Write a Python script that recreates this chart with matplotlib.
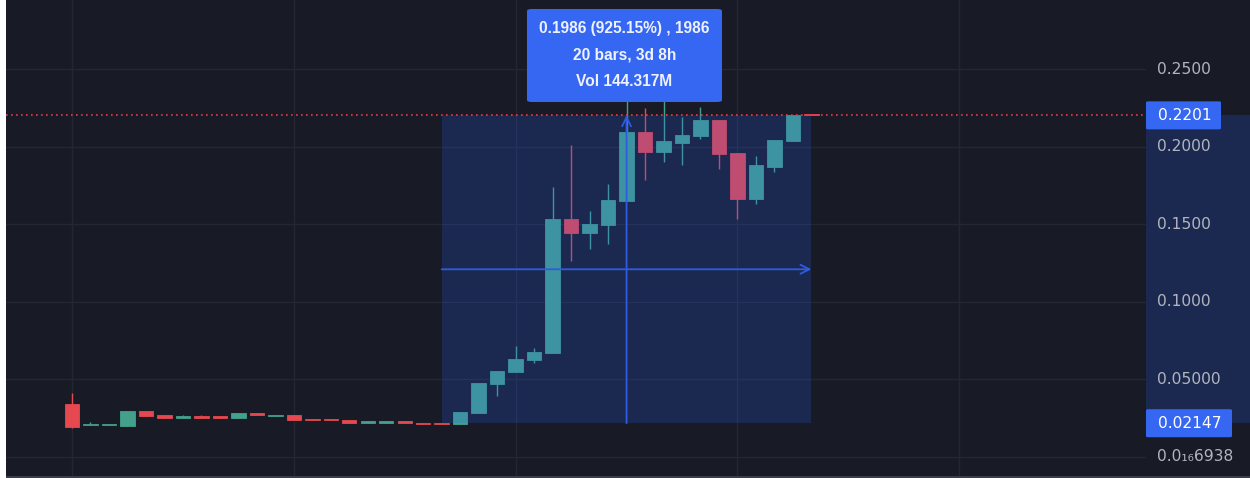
import matplotlib
matplotlib.use("Agg")
import matplotlib.pyplot as plt
from matplotlib.patches import Rectangle, FancyBboxPatch
import numpy as np

# 数据：每根 K 线的开高低收
opens = [0.0337, 0.0201, 0.0202, 0.0200, 0.0294, 0.0268, 0.0250, 0.0260, 0.0260, 0.0250,
         0.0279, 0.0260, 0.0270, 0.0242, 0.0242, 0.0234, 0.0216, 0.0216, 0.0227, 0.0218,
         0.0218, 0.0210, 0.0279, 0.0468, 0.0545, 0.0623, 0.0666, 0.1532, 0.1440, 0.1492,
         0.1646, 0.2094, 0.1966, 0.2025, 0.2070, 0.2171, 0.1956, 0.1663, 0.1870, 0.2034,
         0.2201]
highs = [0.0408, 0.0225, 0.0208, 0.0294, 0.0294, 0.0268, 0.0270, 0.0270, 0.0260, 0.0279,
         0.0279, 0.0270, 0.0270, 0.0242, 0.0242, 0.0234, 0.0227, 0.0227, 0.0227, 0.0218,
         0.0218, 0.0285, 0.0474, 0.0552, 0.0715, 0.0698, 0.1741, 0.2008, 0.1586, 0.1758,
         0.2320, 0.2246, 0.2320, 0.2190, 0.2257, 0.2171, 0.1956, 0.1939, 0.2042, 0.2201,
         0.2201]
lows = [0.0182, 0.0201, 0.0202, 0.0200, 0.0259, 0.0250, 0.0250, 0.0250, 0.0250, 0.0250,
        0.0270, 0.0260, 0.0234, 0.0234, 0.0234, 0.0216, 0.0216, 0.0216, 0.0218, 0.0208,
        0.0208, 0.0210, 0.0279, 0.0390, 0.0545, 0.0605, 0.0666, 0.1259, 0.1337, 0.1371,
        0.1646, 0.1786, 0.1898, 0.1879, 0.2050, 0.1855, 0.1534, 0.1629, 0.1835, 0.2034,
        0.2201]
closes = [0.0190, 0.0206, 0.0208, 0.0294, 0.0259, 0.0250, 0.0260, 0.0250, 0.0250, 0.0279,
          0.0270, 0.0270, 0.0234, 0.0234, 0.0234, 0.0216, 0.0227, 0.0227, 0.0218, 0.0208,
          0.0210, 0.0285, 0.0474, 0.0552, 0.0629, 0.0672, 0.1532, 0.1440, 0.1498, 0.1655,
          0.2094, 0.1966, 0.2034, 0.2076, 0.2171, 0.1950, 0.1663, 0.1879, 0.2042, 0.2201,
          0.2201]

price_ticks = [0.0, 0.05, 0.10, 0.15, 0.20, 0.25]
price_labels = ["0.0\u2081\u20866938", "0.05000", "0.1000", "0.1500", "0.2000", "0.2500"]

range_start, range_end = 20, 40
range_low, range_high = 0.02147, 0.2201
last_price = 0.2201
tooltip_lines = ["0.1986 (925.15%) , 1986", "20 bars, 3d 8h", "Vol 144.317M"]

# 颜色
BG = "#181b26"
GRID = "#232734"
UP = "#43a08a"
DOWN = "#e5484f"
BLUE = "#2962ff"
LABEL = "#b2b5be"

W, H = 1250, 478
fig = plt.figure(figsize=(W / 100, H / 100), dpi=100)
fig.patch.set_facecolor(BG)


def px(x, y):
    """像素坐标 (左上原点) -> figure 坐标"""
    return x / W, 1 - y / H


# 主图区域: x 6..1146, y 0..476 像素
ax = fig.add_axes([6 / W, 2 / H, 1140 / W, 476 / H])
ax.set_facecolor(BG)
ax.set_xlim(-3.57, 58.1)
ax.set_ylim(-0.01258, 0.29452)
for s in ax.spines.values():
    s.set_visible(False)
ax.set_xticks([])
ax.set_yticks([])

# 网格
for gx in [0, 12, 24, 36, 48]:
    ax.axvline(gx, color=GRID, lw=1, zorder=0)
for gy in price_ticks:
    ax.axhline(gy, color=GRID, lw=1, zorder=0)

# K 线
n = len(opens)
idx = np.arange(n)
o = np.array(opens)
c = np.array(closes)
colors = [UP if c[i] > o[i] else DOWN for i in range(n)]
ax.vlines(idx, lows, highs, colors=colors, lw=1, zorder=2)
bottoms = np.minimum(o, c)
heights = np.maximum(np.abs(c - o), 0.0008)
ax.bar(idx, heights, bottom=bottoms, width=0.78, color=colors, edgecolor=colors,
       lw=0.6, zorder=3)

# 区间测量框
ax.add_patch(Rectangle((range_start, range_low), range_end - range_start,
                       range_high - range_low, facecolor=BLUE, alpha=0.2,
                       edgecolor="none", zorder=5))
mid = (range_low + range_high) / 2
mid_x = (range_start + range_end) / 2
arrow = dict(arrowstyle="->", color="#2f5be0", lw=1.3, mutation_scale=16,
             shrinkA=0, shrinkB=0)
ax.annotate("", xy=(range_end, mid), xytext=(range_start, mid), arrowprops=arrow, zorder=6)
ax.annotate("", xy=(mid_x, range_high), xytext=(mid_x, range_low), arrowprops=arrow, zorder=6)

# 最新价虚线
ax.axhline(last_price, color="#f23645", lw=1.2, ls=(0, (1, 2)), zorder=7)

# 价格轴上的区间高亮
ytr = ax.get_yaxis_transform()
ax.add_patch(Rectangle((1.0, range_low), 1.1, range_high - range_low, transform=ytr,
                       facecolor=BLUE, alpha=0.2, edgecolor="none", clip_on=False))

# 价格刻度标签
label_x = (1157 - 6) / 1140
for v, t in zip(price_ticks, price_labels):
    ax.text(label_x, v, t, transform=ytr, color=LABEL, fontsize=11.2,
            ha="left", va="center", clip_on=False)

# 蓝色价格标签
for v, x1 in [(range_high, 1221), (range_low, 1232)]:
    y_px = (0.29452 - v) / (0.29452 + 0.01258) * 476
    x0, y0 = px(1146, y_px + 14)
    fig.patches.append(FancyBboxPatch((x0, y0), (x1 - 1146) / W, 28 / H,
                                      boxstyle="round,pad=0,rounding_size=0.002",
                                      transform=fig.transFigure, facecolor="#3667f2",
                                      edgecolor="none", zorder=10))
    fig.text(1158 / W, 1 - y_px / H, f"{v:.4f}" if v > 0.1 else f"{v:.5f}",
             color="white", fontsize=11.2, ha="left", va="center", zorder=11)

# 提示框
tx0, ty0 = px(527, 102)
fig.patches.append(FancyBboxPatch((tx0, ty0), 195 / W, 93 / H,
                                  boxstyle="round,pad=0,rounding_size=0.004",
                                  transform=fig.transFigure, facecolor="#3667f2",
                                  edgecolor="none", zorder=10))
for t, yy in zip(tooltip_lines, [29, 55, 81]):
    fig.text(624.5 / W, 1 - yy / H, t, color="#eef2ff", fontsize=11.2,
             family="Liberation Sans", fontweight="bold",
             ha="center", va="center", zorder=11)

# 左侧白边和底部分隔线
fig.patches.append(Rectangle((0, 0), 6 / W, 1, transform=fig.transFigure,
                             facecolor="white", edgecolor="none", zorder=12))
fig.patches.append(Rectangle((6 / W, 0), 1, 2 / H, transform=fig.transFigure,
                             facecolor="#3a3e49", edgecolor="none", zorder=12))

fig.savefig("out.png", dpi=100, facecolor=BG)
